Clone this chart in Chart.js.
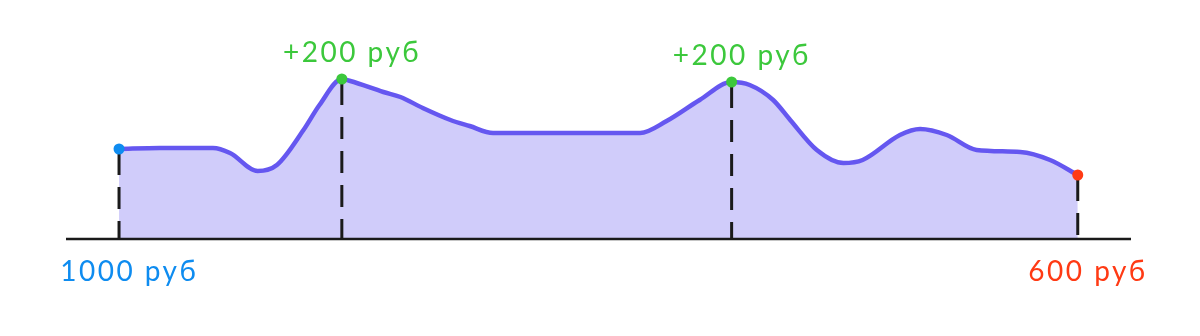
<!DOCTYPE html>
<html>
<head>
<meta charset="utf-8">
<script src="https://cdn.jsdelivr.net/npm/chart.js@4/dist/chart.umd.min.js"></script>
<style>
html,body{margin:0;padding:0;background:#fff;}
#wrap{width:1200px;height:336px;}
</style>
</head>
<body>
<div id="wrap"><canvas id="c" width="1200" height="336"></canvas></div>
<script>
// Balance curve (time units 0..100, value units 0..100 above baseline)
const timeX = [4.98, 8.8, 13.8, 15.4, 18.0, 19.8, 22.3, 23.8, 25.9, 26.7, 29.8, 31.4, 33.5, 36.1, 37.9, 40.1, 46.4, 53.9, 56.4, 59.5, 62.5, 64.2, 66.4, 68.0, 70.5, 73.0, 74.8, 78.3, 80.2, 82.7, 85.5, 89.6, 92.4, 95.0];
const balance = [45, 45.5, 45.5, 43, 34, 37, 54.5, 67, 80, 79, 73.5, 71, 65.5, 59.5, 56.5, 53, 53, 53, 59, 69.5, 78.5, 77, 69.5, 59.5, 44.5, 38, 39.5, 52, 55, 52, 44.5, 43.5, 39.5, 32];

// Marked events
const markerX = [4.98, 25.9, 62.5, 95.0];
const markerY = [45, 80, 78.5, 32];
const markerLabels = ['1000 руб', '+200 руб', '+200 руб', '600 руб'];
const markerColors = ['#0e8cf0', '#3cc83c', '#3cc83c', '#ff3a14'];
const markerLabelPos = ['below', 'above', 'above', 'below'];

const curve = timeX.map((x, i) => ({x, y: balance[i]}));
const markers = markerX.map((x, i) => ({x, y: markerY[i]}));

const decor = {
  id: 'decor',
  afterDatasetDraw(chart, args) {
    if (args.index !== 0) return;
    const ctx = chart.ctx;
    const xs = chart.scales.x, ys = chart.scales.y;
    const y0 = ys.getPixelForValue(0);
    ctx.save();
    ctx.strokeStyle = '#1a1a1a';
    ctx.lineWidth = 2.5;
    ctx.beginPath();
    ctx.moveTo(chart.chartArea.left, y0);
    ctx.lineTo(chart.chartArea.right, y0);
    ctx.stroke();
    ctx.lineWidth = 3;
    ctx.setLineDash([22, 12]);
    markerX.forEach((mx, i) => {
      const px = xs.getPixelForValue(mx);
      const py = ys.getPixelForValue(markerY[i]);
      ctx.beginPath();
      ctx.moveTo(px, py + 4);
      ctx.lineTo(px, y0);
      ctx.stroke();
    });
    ctx.restore();
  },
  afterDatasetsDraw(chart) {
    const ctx = chart.ctx;
    const xs = chart.scales.x, ys = chart.scales.y;
    const y0 = ys.getPixelForValue(0);
    ctx.save();
    ctx.font = '400 28px Lato, "Open Sans", sans-serif';
    const ls = 2.5;
    if ('letterSpacing' in ctx) ctx.letterSpacing = ls + 'px';
    ctx.textAlign = 'left';
    ctx.textBaseline = 'middle';
    markerX.forEach((mx, i) => {
      const px = xs.getPixelForValue(mx);
      const py = ys.getPixelForValue(markerY[i]);
      ctx.fillStyle = markerColors[i];
      const w = ctx.measureText(markerLabels[i]).width - ls;
      const ty = markerLabelPos[i] === 'above' ? py - 26 : y0 + 33;
      ctx.fillText(markerLabels[i], px + 9 - w / 2, ty);
    });
    ctx.restore();
  }
};

new Chart(document.getElementById('c'), {
  type: 'line',
  data: {
    datasets: [
      {
        data: curve,
        borderColor: '#6557f0',
        backgroundColor: '#d0ccfa',
        borderWidth: 4.5,
        fill: 'origin',
        tension: 0.4,
        cubicInterpolationMode: 'monotone',
        pointRadius: 0,
        order: 2
      },
      {
        type: 'scatter',
        data: markers,
        pointRadius: 5.5,
        pointBackgroundColor: markerColors,
        pointBorderWidth: 0,
        showLine: false,
        order: 1
      }
    ]
  },
  options: {
    responsive: false,
    animation: false,
    layout: {padding: {left: 66, right: 69, top: 39, bottom: 97}},
    plugins: {legend: {display: false}, tooltip: {enabled: false}},
    scales: {
      x: {type: 'linear', min: 0, max: 100, display: false},
      y: {min: 0, max: 100, display: false}
    }
  },
  plugins: [decor]
});
</script>
</body>
</html>
